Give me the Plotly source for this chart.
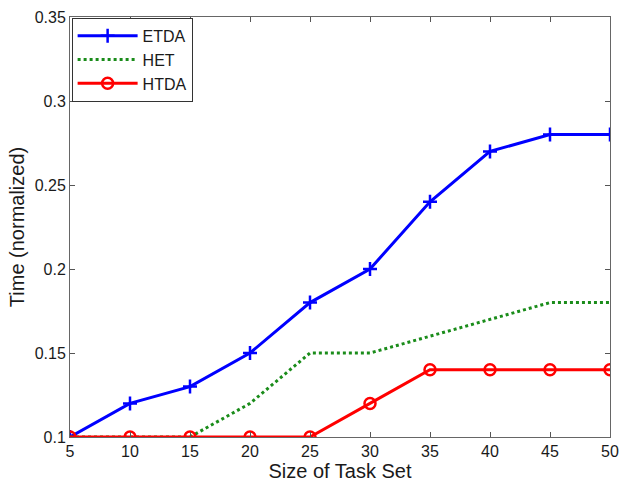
import plotly.graph_objects as go

x = [5, 10, 15, 20, 25, 30, 35, 40, 45, 50]
etda = [0.10, 0.12, 0.13, 0.15, 0.18, 0.20, 0.24, 0.27, 0.28, 0.28]
het = [0.10, 0.10, 0.10, 0.12, 0.15, 0.15, 0.16, 0.17, 0.18, 0.18]
htda = [0.10, 0.10, 0.10, 0.10, 0.10, 0.12, 0.14, 0.14, 0.14, 0.14]
yticks = [0.1, 0.15, 0.2, 0.25, 0.3, 0.35]
yticktext = ["0.1", "0.15", "0.2", "0.25", "0.3", "0.35"]

FONT = "Liberation Sans, Arial"

fig = go.Figure()
fig.add_trace(go.Scatter(x=x, y=etda, name="ETDA", mode="lines+markers",
                         line=dict(color="#0000ff", width=3),
                         marker=dict(symbol="cross-thin-open", size=10,
                                     line=dict(color="#0000ff", width=2.5))))
fig.add_trace(go.Scatter(x=x, y=het, name="HET", mode="lines",
                         line=dict(color="#1a8c1a", width=3, dash="dot")))
fig.add_trace(go.Scatter(x=x, y=htda, name="HTDA", mode="lines+markers",
                         line=dict(color="#ff0000", width=3),
                         marker=dict(symbol="circle-open", size=11,
                                     line=dict(color="#ff0000", width=2.5))))

axis_common = dict(showgrid=False, zeroline=False, showline=True,
                   linecolor="#666666", linewidth=1, mirror="ticks",
                   ticks="inside", ticklen=5, tickcolor="#555555",
                   automargin=False,
                   tickfont=dict(family=FONT, size=16, color="#1a1a1a"))

fig.update_layout(
    width=620, height=487,
    margin=dict(l=70, r=10, t=17, b=50, autoexpand=False),
    paper_bgcolor="white", plot_bgcolor="white",
    font=dict(family=FONT, color="#1a1a1a"),
    xaxis=dict(range=[5, 50], tickvals=x, ticklabeloverflow="allow",
               title=dict(text="Size of Task Set", font=dict(size=20), standoff=1),
               **axis_common),
    yaxis=dict(range=[0.1, 0.35], tickvals=yticks, ticktext=yticktext,
               title=dict(text="Time (normalized)", font=dict(size=20), standoff=4),
               **axis_common),
    legend=dict(x=0.003, y=0.998, xanchor="left", yanchor="top",
                bgcolor="white", bordercolor="#333333", borderwidth=1,
                font=dict(size=16), itemwidth=60, tracegroupgap=0),
    showlegend=True,
)

fig.write_html("out.html")
